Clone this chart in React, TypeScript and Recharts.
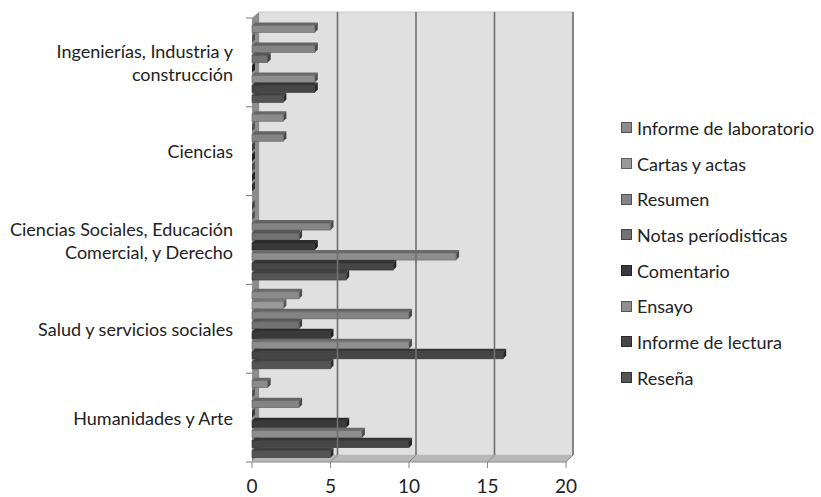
import { BarChart, Bar, XAxis, YAxis, ReferenceArea, ReferenceLine } from "recharts";

const categories = [
  "Ingenierías, Industria y\nconstrucción",
  "Ciencias",
  "Ciencias Sociales, Educación\nComercial, y Derecho",
  "Salud y servicios sociales",
  "Humanidades y Arte",
];

const informeLaboratorio = [4, 2, 0, 3, 1];
const cartasActas = [0, 0, 0, 2, 0];
const resumen = [4, 2, 5, 10, 3];
const notasPeriodisticas = [1, 0, 3, 3, 0];
const comentario = [0, 0, 4, 5, 6];
const ensayo = [4, 0, 13, 10, 7];
const informeLectura = [4, 0, 9, 16, 10];
const resena = [2, 0, 6, 5, 5];

const xTicks = [0, 5, 10, 15, 20];

const series = [
  { key: "lab", name: "Informe de laboratorio", values: informeLaboratorio, color: "#8b8b8b" },
  { key: "cartas", name: "Cartas y actas", values: cartasActas, color: "#9a9a9a" },
  { key: "resumen", name: "Resumen", values: resumen, color: "#848484" },
  { key: "notas", name: "Notas períodisticas", values: notasPeriodisticas, color: "#727272" },
  { key: "comentario", name: "Comentario", values: comentario, color: "#3a3a3a" },
  { key: "ensayo", name: "Ensayo", values: ensayo, color: "#8e8e8e" },
  { key: "lectura", name: "Informe de lectura", values: informeLectura, color: "#464646" },
  { key: "resena", name: "Reseña", values: resena, color: "#555555" },
];

const data = categories.map((c, i) => {
  const row: Record<string, any> = { cat: c };
  series.forEach((s) => (row[s.key] = s.values[i]));
  return row;
});

const FONT = "Lato, 'Open Sans', sans-serif";
const DX = 7;
const DY = 6;

function shade(hex: string, k: number) {
  const n = parseInt(hex.slice(1), 16);
  const f = (v: number) => Math.max(0, Math.min(255, Math.round(v * k)));
  const r = f((n >> 16) & 255), g = f((n >> 8) & 255), b = f(n & 255);
  return `rgb(${r},${g},${b})`;
}

function Bar3D(props: any) {
  const { x, y, width, height, fill } = props;
  const d = 3;
  const w = Math.max(0, width);
  return (
    <g>
      <polygon
        points={`${x},${y + d} ${x + d},${y} ${x + w + d},${y} ${x + w},${y + d}`}
        fill={shade(fill, 0.75)}
      />
      <polygon
        points={`${x + w},${y + d} ${x + w + d},${y} ${x + w + d},${y + height - d} ${x + w},${y + height}`}
        fill={shade(fill, 0.55)}
      />
      <rect x={x} y={y + d} width={w} height={height - d} fill={fill} stroke={shade(fill, 0.7)} strokeWidth={0.6} />
    </g>
  );
}

function Walls(props: any) {
  const { x, y, width, height } = props;
  const b = y + height;
  const step = height / categories.length;
  return (
    <g>
      <rect x={x + DX} y={y - DY} width={width} height={height - 1} fill="#e0e0e0" stroke="#c8c8c8" />
      <polygon points={`${x},${y} ${x + DX},${y - DY} ${x + DX},${b - DY - 1} ${x},${b}`} fill="#8c8c8c" />
      <polygon points={`${x},${b} ${x + DX},${b - DY - 1} ${x + width + DX},${b - DY - 1} ${x + width},${b}`} fill="#b8b8b8" />
      {categories.concat([""]).map((_, i) => (
        <line key={i} x1={x - 6} x2={x} y1={y + i * step} y2={y + i * step} stroke="#777" />
      ))}
    </g>
  );
}

function GridLine3D(props: any) {
  const { x1, y1, x2, y2 } = props;
  return (
    <g>
      <line x1={x1 + DX} y1={Math.min(y1, y2) - DY} x2={x2 + DX} y2={Math.max(y1, y2) - DY - 1} stroke="#6f6f6f" strokeWidth={1.6} />
      <line x1={x2} y1={Math.max(y1, y2)} x2={x2 + DX} y2={Math.max(y1, y2) - DY - 1} stroke="#8a8a8a" />
    </g>
  );
}

function CatTick(props: any) {
  const { y, payload } = props;
  const lines = String(payload.value).split("\n");
  const lh = 23;
  const top = y - ((lines.length - 1) * lh) / 2;
  return (
    <text x={233} y={top} textAnchor="end" fontFamily={FONT} fontSize={18} fill="#222" dominantBaseline="central">
      {lines.map((l, i) => (
        <tspan key={i} x={233} y={top + i * lh}>
          {l}
        </tspan>
      ))}
    </text>
  );
}

function LegendBox() {
  return (
    <div style={{ position: "absolute", left: 621, top: 110, fontFamily: FONT, fontSize: 18, color: "#222" }}>
      {series.map((s) => (
        <div key={s.key} style={{ display: "flex", alignItems: "center", height: 35.7, whiteSpace: "nowrap" }}>
          <span style={{ width: 9, height: 9, background: s.color, border: `1px solid ${shade(s.color, 0.6)}`, marginRight: 5 }} />
          {s.name}
        </div>
      ))}
    </div>
  );
}

export default function App() {
  return (
    <div style={{ position: "absolute", left: 0, top: 0, width: 821, height: 497, background: "#fff", overflow: "hidden" }}>
      <BarChart
        width={821}
        height={497}
        data={data}
        layout="vertical"
        margin={{ top: 18, right: 255, bottom: 0, left: 0 }}
        barCategoryGap="5%"
        barGap={0}
      >
        <XAxis
          type="number"
          domain={[0, 20]}
          ticks={xTicks}
          height={35}
          tickSize={6}
          tickMargin={12}
          stroke="#8a8a8a"
          tick={{ fontFamily: FONT, fontSize: 19, fill: "#222" }}
        />
        <YAxis type="category" dataKey="cat" width={252} tickLine={false} axisLine={false} tick={<CatTick />} />
        <ReferenceArea x1={0} x2={20} ifOverflow="visible" shape={<Walls />} />
        {xTicks.slice(1).map((t) => (
          <ReferenceLine key={t} x={t} ifOverflow="visible" shape={<GridLine3D />} />
        ))}
        {series.map((s) => (
          <Bar key={s.key} dataKey={s.key} name={s.name} fill={s.color} shape={<Bar3D />} isAnimationActive={false} />
        ))}
      </BarChart>
      <LegendBox />
    </div>
  );
}
